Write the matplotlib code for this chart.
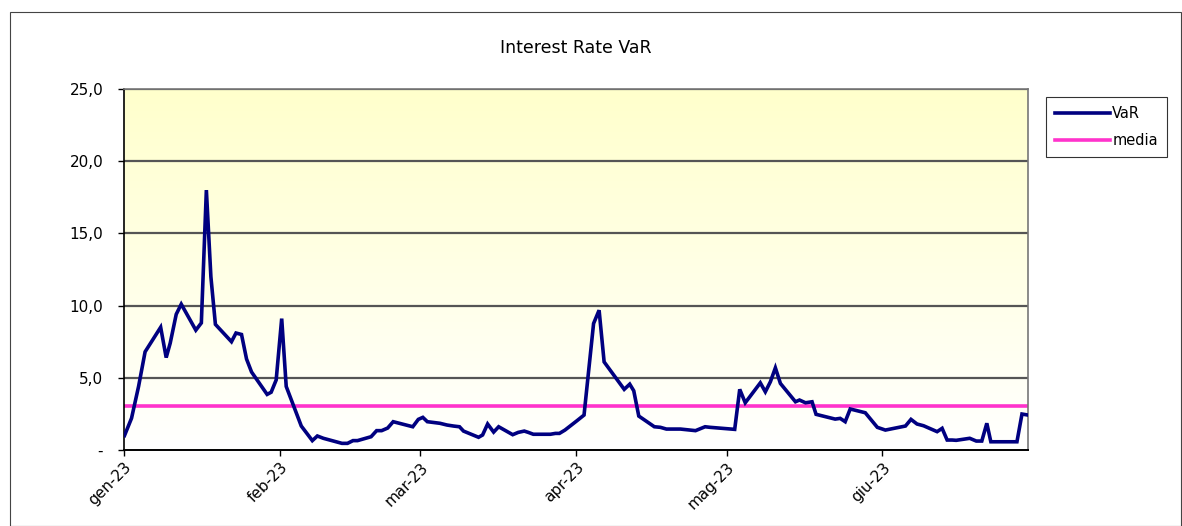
import matplotlib
matplotlib.use("Agg")
import matplotlib.pyplot as plt
import matplotlib.dates as mdates
import numpy as np
from datetime import datetime
from matplotlib.patches import Rectangle

# days after 1 Jan 2023 and daily VaR
days = [0.1, 1.5, 2.9, 4.2, 7.3, 8.4, 9.2, 10.4, 11.4, 14.3, 15.4, 16.4, 17.3, 18.2,
        21.4, 22.3, 23.4, 24.4, 25.4, 28.5, 29.3, 30.3, 31.4, 32.3, 35.3, 37.5, 38.5,
        39.7, 43.4, 44.5, 45.6, 46.5, 49.2, 50.3, 51.3, 52.5, 53.6, 57.5, 58.6, 59.5,
        60.4, 62.9, 64.3, 65.6, 66.8, 67.6, 70.6, 71.4, 72.4, 73.6, 74.6, 77.4, 78.5,
        79.7, 80.5, 81.5, 84.9, 85.9, 86.7, 87.8, 90.2, 91.6, 93.5, 94.6, 95.6, 99.6,
        100.7, 101.5, 102.5, 105.6, 106.8, 108.0, 110.8, 113.8, 115.7, 116.7, 121.6,
        122.6, 123.7, 126.7, 127.7, 128.7, 129.7, 130.7, 133.7, 134.5, 135.7, 137.0,
        137.8, 141.6, 142.6, 143.6, 144.6, 147.6, 150.0, 151.6, 155.6, 156.7, 157.9,
        159.2, 161.9, 162.9, 163.9, 164.9, 165.7, 168.4, 169.7, 170.8, 171.8, 172.6,
        177.8, 178.8, 180.0]
var = [1.0, 2.2, 4.4, 6.8, 8.5, 6.4, 7.4, 9.4, 10.1, 8.3, 8.8, 18.0, 12.0, 8.7,
       7.5, 8.1, 8.0, 6.3, 5.4, 3.85, 4.0, 4.85, 9.1, 4.4, 1.66, 0.65, 0.97,
       0.81, 0.46, 0.46, 0.65, 0.65, 0.92, 1.34, 1.34, 1.52, 1.96, 1.61, 2.12, 2.26,
       1.96, 1.85, 1.73, 1.66, 1.61, 1.31, 0.88, 1.04, 1.8, 1.24, 1.61, 1.06, 1.22,
       1.31, 1.22, 1.09, 1.09, 1.15, 1.15, 1.38, 2.03, 2.42, 8.76, 9.68, 6.1, 4.2,
       4.56, 4.1, 2.35, 1.61, 1.57, 1.45, 1.45, 1.34, 1.61, 1.57, 1.43,
       4.2, 3.27, 4.65, 4.03, 4.72, 5.69, 4.61, 3.34, 3.46, 3.27, 3.34,
       2.47, 2.14, 2.19, 1.96, 2.84, 2.58, 1.57, 1.38, 1.66, 2.12, 1.8,
       1.68, 1.27, 1.5, 0.69, 0.69, 0.67, 0.81, 0.62, 0.62, 1.85, 0.57,
       0.57, 2.49, 2.42]
media = 3.05

month_labels = ['gen-23', 'feb-23', 'mar-23', 'apr-23', 'mag-23', 'giu-23']
y_ticks = [0, 5, 10, 15, 20, 25]
y_labels = ['-', '5,0', '10,0', '15,0', '20,0', '25,0']

start = mdates.date2num(datetime(2023, 1, 1))
end = mdates.date2num(datetime(2023, 6, 30))
x = start + np.array(days)

W, H = 1182, 526
fig = plt.figure(figsize=(W / 100, H / 100), dpi=100)
fig.patch.set_facecolor('white')

# outer chart frame
fig.add_artist(Rectangle((10 / W, 0), (W - 11) / W, (H - 12) / H,
                         transform=fig.transFigure, fill=False,
                         edgecolor='#444444', linewidth=0.8))

ax = fig.add_axes([124 / W, 1 - 450 / H, (1028 - 124) / W, (450 - 89) / H])

# yellow (top) to white (bottom) gradient behind the plot
grad = np.linspace(0, 1, 256).reshape(-1, 1)
top = np.array([255, 255, 204]) / 255
bottom = np.array([255, 255, 255]) / 255
img = top * (1 - grad[..., None]) + bottom * grad[..., None]
ax.imshow(img, extent=[start, end, 0, 25], origin='upper', aspect='auto', zorder=0)

for yv in y_ticks[1:]:
    ax.axhline(yv, color='#555555', linewidth=1.6, zorder=1)

ax.plot(x, var, color='#000080', linewidth=2.6, solid_joinstyle='miter', zorder=3, label='VaR')
ax.plot([start, end], [media, media], color='#FF33CC', linewidth=2.6, zorder=2, label='media')

ax.set_xlim(start, end)
ax.set_ylim(0, 25)

ax.set_yticks(y_ticks)
ax.set_yticklabels(y_labels, fontsize=11)
ax.xaxis.set_major_locator(mdates.MonthLocator())
ax.set_xticks(ax.get_xticks()[:len(month_labels)])
ax.set_xticklabels(month_labels, rotation=45, ha='right', rotation_mode='anchor', fontsize=11)
ax.tick_params(axis='both', direction='out', length=4, width=1, color='black')
ax.tick_params(axis='y', pad=11)
ax.tick_params(axis='x', pad=3)

for s in ['top', 'right']:
    ax.spines[s].set_color('#777777')
    ax.spines[s].set_linewidth(1.2)
ax.spines['left'].set_color('black')
ax.spines['bottom'].set_color('black')
ax.spines['left'].set_linewidth(1.2)
ax.spines['bottom'].set_linewidth(1.4)

fig.text(576 / W, 1 - 48 / H, 'Interest Rate VaR', ha='center', va='center', fontsize=12.5)

leg = fig.legend(loc='upper left', bbox_to_anchor=(1046 / W, 1 - 97 / H),
                 fontsize=10.5, frameon=True, fancybox=False, handlelength=3.8,
                 handletextpad=0.15, borderpad=0.6, labelspacing=0.85, borderaxespad=0)
leg.get_frame().set_edgecolor('black')
leg.get_frame().set_linewidth(0.8)

fig.savefig('out.png', dpi=100)
